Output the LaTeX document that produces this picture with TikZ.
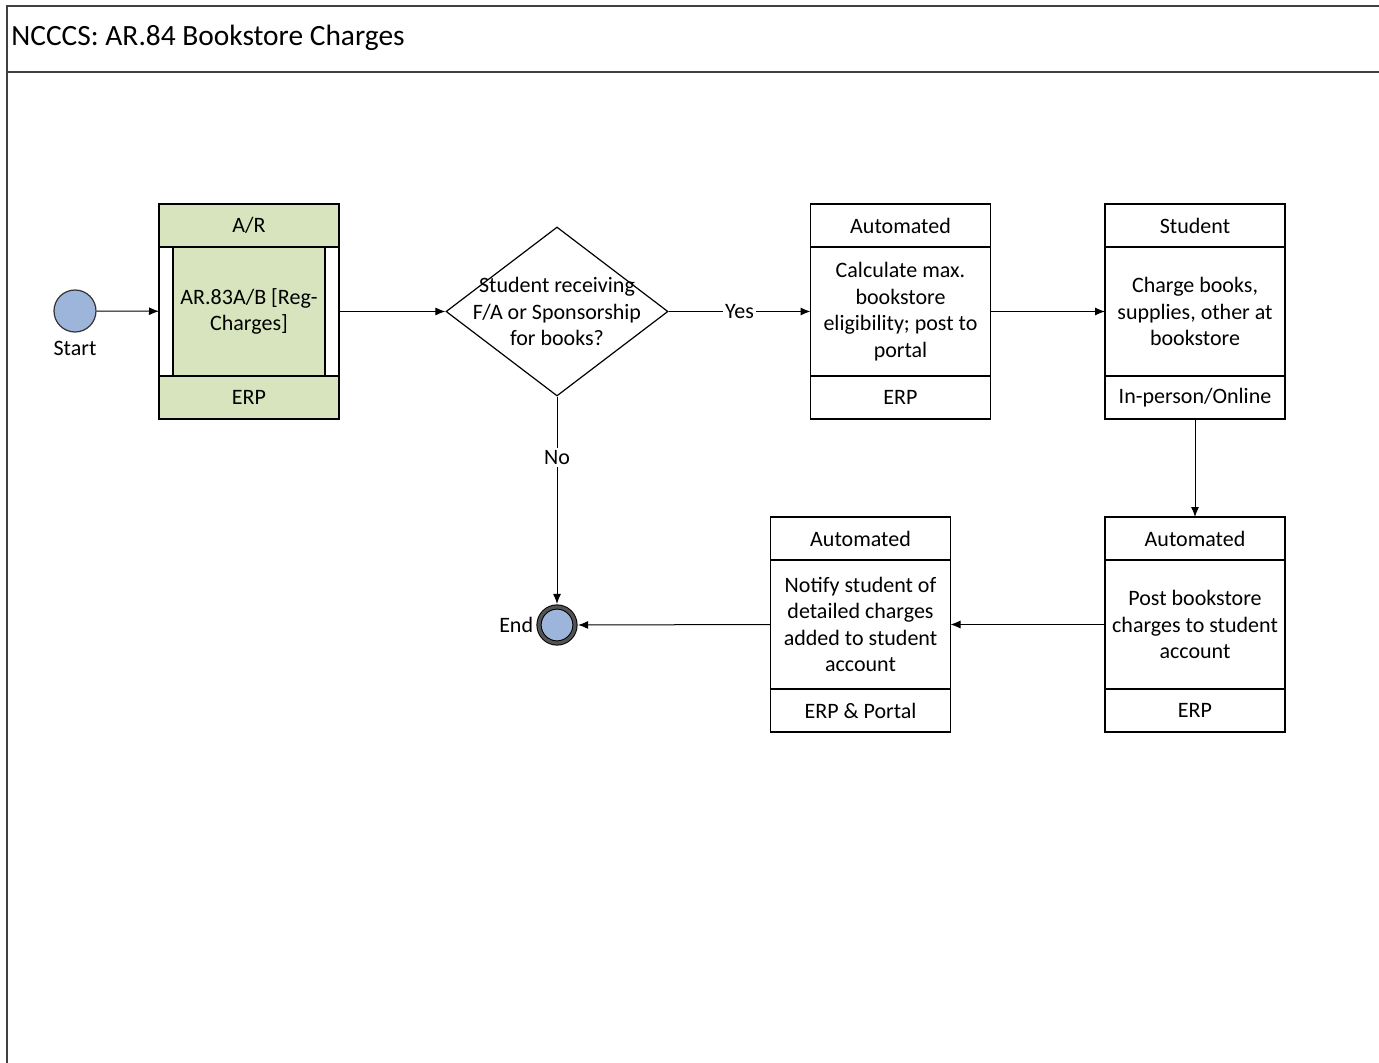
\documentclass[tikz,border=0pt]{standalone}
\usepackage{fontspec}
\setmainfont{Carlito}
\usetikzlibrary{positioning,shapes.geometric,arrows.meta}

\definecolor{procgreen}{HTML}{D7E4BD}
\definecolor{eventblue}{HTML}{9DB5DA}
\definecolor{framegray}{HTML}{404040}

\begin{document}
\begin{tikzpicture}[x=0.5pt, y=-0.5pt,
  every node/.style={font=\fontsize{11}{13.3}\selectfont},
  box/.style={draw, line width=0.6pt, outer sep=0pt, minimum width=90pt, minimum height=64.5pt, align=center, inner sep=2pt},
  band/.style={draw, line width=0.6pt, outer sep=0pt, minimum width=90pt, minimum height=21.5pt, inner sep=2pt},
  event/.style={circle, draw=black!80, line width=0.6pt, fill=eventblue, minimum size=21pt, inner sep=0pt},
  flow/.style={-{Latex[length=5pt,width=4pt]}, line width=0.5pt},
  tag/.style={fill=white, inner sep=1pt}]

\useasboundingbox (0,0) rectangle (1379,1063);

% page frame and title
\draw[framegray, line width=1pt] (7,1080) -- (7,6) -- (1390,6);
\draw[framegray, line width=1pt] (7,72) -- (1390,72);
\node[anchor=west, inner sep=0pt, font=\fontsize{14.7}{17}\selectfont] (title) at (11,38) {NCCCS: AR.84 Bookstore Charges};

\node[event, label={[inner sep=0pt, label distance=4pt]below:Start}] (start) at (75,311) {};

% sub-process A/R
\node[box, fill=white] (arBody) at (249,311.5) {};
\node[box, fill=procgreen, minimum width=76pt] (arIn) at (arBody) {AR.83A/B [Reg-\\Charges]};
\node[band, fill=procgreen, above=0pt of arBody] (arHead) {A/R};
\node[band, fill=procgreen, below=0pt of arBody] (arFoot) {ERP};

\node[diamond, draw, line width=0.6pt, minimum width=111pt, minimum height=84.5pt, inner sep=0pt] (dia) at (557,311.5) {};
\node[align=center] (diaText) at (dia) {Student receiving\\F/A or Sponsorship\\for books?};

\node[box] (autoBody) at (900.5,311.5) {Calculate max.\\bookstore\\eligibility; post to\\portal};
\node[band, above=0pt of autoBody] (autoHead) {Automated};
\node[band, below=0pt of autoBody] (autoFoot) {ERP};

\node[box] (stuBody) at (1195,311.5) {Charge books,\\supplies, other at\\bookstore};
\node[band, above=0pt of stuBody] (stuHead) {Student};
\node[band, below=0pt of stuBody] (stuFoot) {In-person/Online};

\node[box] (postBody) at (1195,624.5) {Post bookstore\\charges to student\\account};
\node[band, above=0pt of postBody] (postHead) {Automated};
\node[band, below=0pt of postBody] (postFoot) {ERP};

\node[box] (noteBody) at (860.5,624.5) {Notify student of\\detailed charges\\added to student\\account};
\node[band, above=0pt of noteBody] (noteHead) {Automated};
\node[band, below=0pt of noteBody] (noteFoot) {ERP \& Portal};

\node[event, minimum size=18pt, draw=black, double=framegray!90, double distance=1.6pt, line width=0.5pt,
      label={[inner sep=0pt, label distance=2.5pt]left:End}] (end) at (557,625) {};

% connectors
\draw[flow] (start) -- (arBody);
\draw[flow] (arBody.east) -- (dia.west);
\draw[flow] (dia.east) -- node[tag] {Yes} (autoBody.west);
\draw[flow] (autoBody.east) -- (stuBody.west);
\draw[flow] (stuFoot.south) -- (postHead.north);
\draw[flow] (postBody.west) -- (noteBody.east);
\draw[flow, shorten >=1.3pt] (noteBody.west) -- (end.east);
\draw[flow, shorten >=1.3pt] (dia.south) -- node[tag, pos=0.29] {No} (end.north);
\end{tikzpicture}
\end{document}
